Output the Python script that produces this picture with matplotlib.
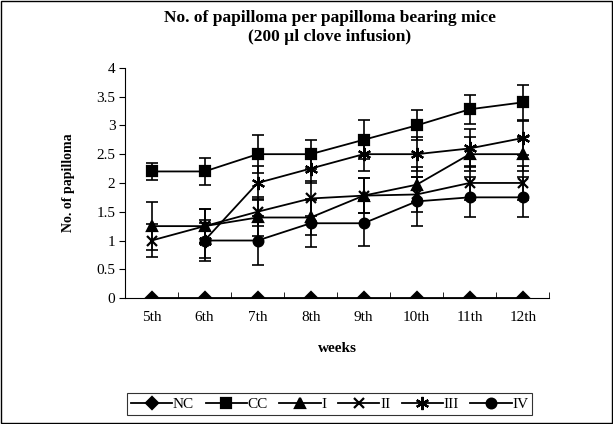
import numpy as np
import matplotlib
matplotlib.use('Agg')
import matplotlib.pyplot as plt
from matplotlib.patches import Rectangle

plt.rcParams['font.family'] = ['Liberation Serif', 'DejaVu Serif']

weeks = ['5th', '6th', '7th', '8th', '9th', '10th', '11th', '12th']

nc = [0, 0, 0, 0, 0, 0, 0, 0]
cc = [2.2, 2.2, 2.5, 2.5, 2.75, 3.0, 3.28, 3.4]
cc_err = [0.15, 0.24, 0.33, 0.25, 0.34, 0.26, 0.25, 0.31]
g1 = [1.25, 1.25, 1.4, 1.4, 1.78, 1.97, 2.5, 2.5]
g1_err = [0.42, 0.3, 0.32, 0.3, 0.3, 0.3, 0.3, 0.3]
g2 = [1.0, 1.25, 1.5, 1.73, 1.78, 1.8, 2.0, 2.0]
g2_err = [0.28, 0.3, 0.25, 0.3, 0.3, 0.3, 0.3, 0.3]
g3 = [np.nan, 1.0, 2.0, 2.25, 2.5, 2.5, 2.6, 2.78]
g3_err = [np.nan, 0.35, 0.3, 0.25, 0.3, 0.3, 0.33, 0.3]
g4 = [np.nan, 1.0, 1.0, 1.3, 1.3, 1.68, 1.75, 1.75]
g4_err = [np.nan, 0.3, 0.42, 0.42, 0.4, 0.42, 0.35, 0.35]

asterisk = (6, 2, 0)

fig = plt.figure(figsize=(6.13, 4.24), dpi=100)
ax = fig.add_axes([0.204, 0.297, 0.692, 0.543])

x = np.arange(len(weeks))
series = [
    ('NC', nc, None, 'D', 6.5),
    ('CC', cc, cc_err, 's', 7),
    ('I', g1, g1_err, '^', 7.5),
    ('II', g2, g2_err, 'x', 7.5),
    ('III', g3, g3_err, asterisk, 9.5),
    ('IV', g4, g4_err, 'o', 7),
]

handles = []
for name, vals, err, mk, ms in series:
    vals = np.array(vals, dtype=float)
    if err is not None:
        ax.errorbar(x, vals, yerr=err, fmt='none', ecolor='black',
                    elinewidth=1.2, capsize=4, capthick=1.2, zorder=2)
    line, = ax.plot(x, vals, color='black', linewidth=1.3, marker=mk,
                    markersize=ms, markeredgewidth=1.6, markerfacecolor='black',
                    markeredgecolor='black', label=name, zorder=3)
    handles.append(line)

ax.set_xlim(-0.5, len(weeks) - 0.5)
ax.set_ylim(0, 4)
ax.set_yticks(np.arange(0, 4.01, 0.5))
ax.set_yticklabels(['0', '0.5', '1', '1.5', '2', '2.5', '3', '3.5', '4'])
ax.set_xticks(x)
ax.set_xticklabels(weeks)
ax.set_xticks(np.arange(-0.5, len(weeks), 1), minor=True)
ax.tick_params(axis='x', which='major', length=0, labelsize=11, pad=9)
ax.tick_params(axis='x', which='minor', length=4, direction='in')
ax.tick_params(axis='y', length=4, direction='out', labelsize=11, pad=3)
ax.spines['top'].set_visible(False)
ax.spines['right'].set_visible(False)
ax.spines['left'].set_linewidth(0.8)
ax.spines['bottom'].set_linewidth(0.8)

ax.set_xlabel('weeks', fontsize=11, fontweight='bold', labelpad=13)
ax.set_ylabel('No. of papilloma', fontsize=10, fontweight='bold', labelpad=15)

fig.text(0.538, 0.958, 'No. of papilloma per papilloma bearing mice',
         ha='center', va='center', fontsize=12.5, fontweight='bold')
fig.text(0.538, 0.912, '(200 \u00b5l clove infusion)',
         ha='center', va='center', fontsize=12.5, fontweight='bold')

leg = fig.legend(handles=handles, loc='center', bbox_to_anchor=(0.538, 0.047),
                 ncol=6, fontsize=11, frameon=True, fancybox=False,
                 edgecolor='black', handlelength=2.7, handletextpad=0.05,
                 columnspacing=0.75, borderpad=0.25)
leg.get_frame().set_linewidth(0.8)

fig.patches.append(Rectangle((0.002, 0.002), 0.996, 0.996, transform=fig.transFigure,
                             fill=False, edgecolor='black', linewidth=1.0))

fig.savefig('out.png', dpi=100)
